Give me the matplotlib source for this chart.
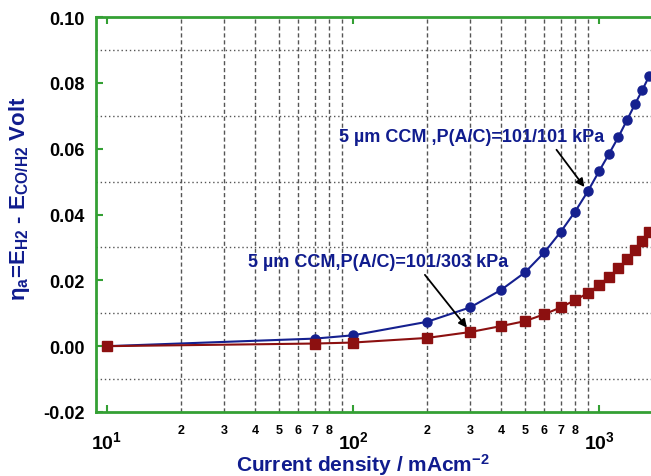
#Imports
import matplotlib
matplotlib.use("Agg")
import matplotlib.pyplot as plt
import numpy as np

#Fonts - Arial like bold text everywhere
plt.rcParams['font.family'] = ['Liberation Sans', 'DejaVu Sans']
plt.rcParams['font.weight'] = 'bold'
plt.rcParams['mathtext.fontset'] = 'custom'
plt.rcParams['mathtext.rm'] = 'Liberation Sans:bold'
plt.rcParams['mathtext.it'] = 'Liberation Sans:bold'
plt.rcParams['mathtext.bf'] = 'Liberation Sans:bold'
plt.rcParams['mathtext.default'] = 'bf'

#Data
#5 um CCM, P(A/C)=101/101 kPa
current_101 = [10, 70, 100, 200, 300, 400, 500, 600, 700, 800, 900, 1000,
               1100, 1200, 1300, 1400, 1500, 1600]
eta_101 = [0.0, 0.0023, 0.0033, 0.0074, 0.0118, 0.0171, 0.0224, 0.0285,
           0.0348, 0.0409, 0.0470, 0.0531, 0.0585, 0.0636, 0.0687, 0.0735,
           0.0778, 0.0821]
#5 um CCM, P(A/C)=101/303 kPa
current_303 = [10, 70, 100, 200, 300, 400, 500, 600, 700, 800, 900, 1000,
               1100, 1200, 1300, 1400, 1500, 1600]
eta_303 = [0.0, 0.0008, 0.0011, 0.0025, 0.0043, 0.0061, 0.0076, 0.0097,
           0.0118, 0.0140, 0.0161, 0.0185, 0.0211, 0.0237, 0.0264, 0.0293,
           0.0318, 0.0348]

#Tick labels
major_x = [10, 100, 1000]
major_x_labels = [r'$10^{1}$', r'$10^{2}$', r'$10^{3}$']
minor_x = [m * d for d in (10, 100) for m in range(2, 10)]
minor_x_labels = ['' if m == 9 else str(m) for d in (10, 100) for m in range(2, 10)]
major_y = [-0.02, 0.00, 0.02, 0.04, 0.06, 0.08, 0.10]
minor_y = [-0.01, 0.01, 0.03, 0.05, 0.07, 0.09]

green = "#34a034"
navy = "#101c8e"
blue = "#15208f"
red = "#8c1010"

fig = plt.figure(figsize=(6.51, 4.77), dpi=100)
ax = fig.add_axes([96 / 651, 1 - 413 / 477, 1 - 96 / 651, 395 / 477])

#Curves
ax.plot(current_101, eta_101, color=blue, lw=1.5, marker='o', ms=6.5, zorder=3)
ax.plot(current_303, eta_303, color=red, lw=1.5, marker='s', ms=6.5, zorder=3)

ax.set_xscale('log')
ax.set_xlim(9.02, 1627)
ax.set_ylim(-0.02, 0.10)

#Ticks
ax.set_xticks(major_x)
ax.set_xticklabels(major_x_labels, fontsize=14)
ax.set_xticks(minor_x, minor=True)
ax.set_xticklabels(minor_x_labels, minor=True, fontsize=9)
ax.set_yticks(major_y)
ax.set_yticklabels(['%.2f' % v for v in major_y], fontsize=13)
ax.set_yticks(minor_y, minor=True)
ax.tick_params(which='major', direction='in', length=5, width=1.5, color=green,
               top=True, right=False, pad=8)
ax.tick_params(axis='x', which='minor', length=0, pad=9)
ax.tick_params(axis='y', which='minor', length=0)
ax.tick_params(axis='x', which='major', pad=13)

#Grid: dashed at minor x, dotted at minor y
ax.grid(False)
for v in minor_x:
    ax.axvline(v, color='#555555', lw=1, ls=(0, (3, 2)), zorder=1)
for v in minor_y:
    ax.axhline(v, color='#555555', lw=1, ls=(0, (1, 2)), zorder=1)

#Spines
for s in ['left', 'bottom', 'top']:
    ax.spines[s].set_color(green)
    ax.spines[s].set_linewidth(2)
ax.spines['right'].set_visible(False)

#Annotations
ax.annotate('5 \u00b5m CCM ,P(A/C)=101/101 kPa', xy=(900, 0.0470), xytext=(87.7, 0.0638),
            color=navy, fontsize=13, fontweight='bold', va='center', ha='left',
            arrowprops=dict(arrowstyle='-|>', color='black', lw=1.3, relpos=(0.82, -0.3),
                            shrinkA=0, shrinkB=4, mutation_scale=12),
            annotation_clip=False)
ax.annotate('5 \u00b5m CCM,P(A/C)=101/303 kPa', xy=(300, 0.0043), xytext=(37.4, 0.0258),
            color=navy, fontsize=13, fontweight='bold', va='center', ha='left',
            arrowprops=dict(arrowstyle='-|>', color='black', lw=1.3, relpos=(0.68, -0.3),
                            shrinkA=0, shrinkB=4, mutation_scale=12),
            annotation_clip=False)

#Axis labels
fig.text(20 / 651, 1 - 199 / 477, r'$\eta_a$=E$_{H2}$ - E$_{CO/H2}$ Volt', color=navy,
         fontsize=16, fontweight='bold', rotation=90, ha='center', va='center')
fig.text(363 / 651, 1 - 465 / 477, r'Current density / mAcm$^{-2}$', color=navy,
         fontsize=15, fontweight='bold', ha='center', va='center')

fig.savefig("out.png", dpi=100)
